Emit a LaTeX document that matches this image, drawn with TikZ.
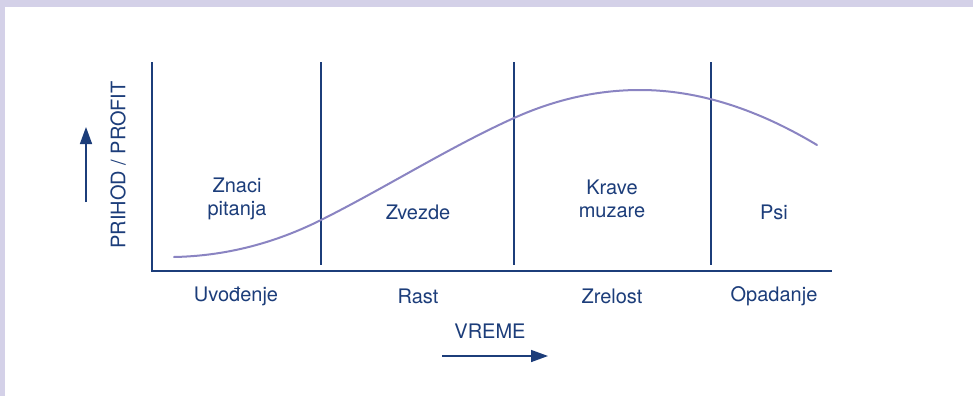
\documentclass[tikz,border=0pt]{standalone}
\usepackage{fontspec}
\setmainfont{TeX Gyre Heros}
\usetikzlibrary{arrows.meta}
\definecolor{navy}{HTML}{1C3D7A}
\definecolor{curvec}{HTML}{8A84C2}
\definecolor{frame}{HTML}{D4D1E8}
\tikzset{
  axis/.style={draw=navy, line width=1.6pt},
  divider/.style={draw=navy, line width=1.5pt},
  lbl/.style={text=navy, font=\fontsize{20}{23}\selectfont, align=center, inner sep=0pt},
  arr/.style={draw=navy, line width=1.5pt, -{Triangle[length=17pt,width=12pt]}}
}
\begin{document}
\begin{tikzpicture}[x=1pt,y=-1pt]
\useasboundingbox (0,0) rectangle (973,396);
\fill[white] (0,0) rectangle (973,396);
\fill[frame] (0,0) rectangle (973,7);
\fill[frame] (0,0) rectangle (5,396);
% axes
\coordinate (ytop) at (152,62);
\coordinate (origin) at (152,271);
\coordinate (xend) at (832,271);
\draw[axis] (ytop) -- (origin) -- (xend);
% dividers
\foreach \n/\x in {d1/321, d2/514, d3/711}{
  \coordinate (\n t) at (\x,62);
  \coordinate (\n b) at (\x,265);
  \draw[divider] (\n t) -- (\n b);
}
% curve
\coordinate (p0) at (174,257);
\coordinate (p1) at (321,220);
\coordinate (p2) at (514,118);
\coordinate (p3) at (640,90);
\coordinate (p4) at (817,145);
\draw[curvec, line width=2pt, line cap=round]
  (p0) .. controls (223,256) and (272,244.5) .. (p1)
       .. controls (385,188) and (450,146.8) .. (p2)
       .. controls (556,99.1) and (598,90) .. (p3)
       .. controls (699,90) and (758,109.6) .. (p4);
% region labels
\node[lbl] (q) at (237,199) {Znaci\\pitanja};
\node[lbl] (s) at (418,212) {Zvezde};
\node[lbl] (c) at (612,199) {Krave\\muzare};
\node[lbl] (p) at (774,212) {Psi};
% stage labels
\node[lbl] (u) at (236,296) {Uvođenje};
\node[lbl] (r) at (418,296) {Rast};
\node[lbl] (z) at (612,296) {Zrelost};
\node[lbl] (o) at (774,296) {Opadanje};
% axis titles
\node[lbl, rotate=90] (yl) at (118,165) {PRIHOD / PROFIT};
\node[lbl] (xl) at (490,331) {VREME};
% arrows
\coordinate (ua) at (86,202);
\coordinate (ub) at (86,127);
\draw[arr] (ua) -- (ub);
\coordinate (ra) at (442,356);
\coordinate (rb) at (548,356);
\draw[arr] (ra) -- (rb);
\end{tikzpicture}
\end{document}
